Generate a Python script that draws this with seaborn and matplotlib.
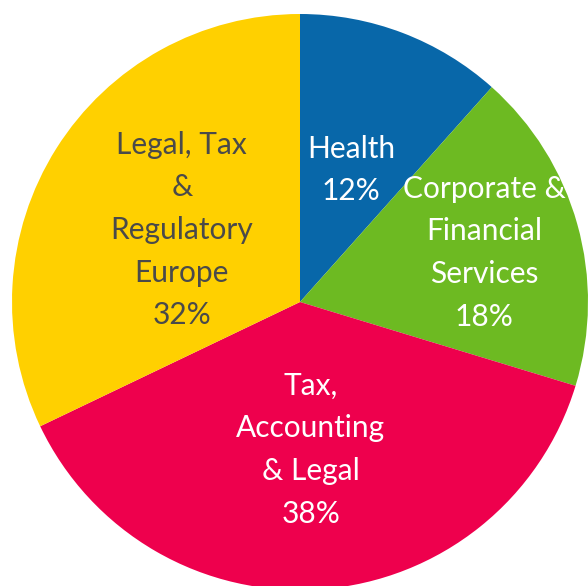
import matplotlib
matplotlib.use("Agg")
import matplotlib.pyplot as plt
import matplotlib.transforms as mtransforms
import seaborn as sns
import numpy as np

categories = ["Health", "Corporate &\nFinancial\nServices", "Tax,\nAccounting\n& Legal", "Legal, Tax\n&\nRegulatory\nEurope"]
shares = [11.6, 18.1, 38.2, 32.1]
pct_labels = [12, 18, 38, 32]
colors = ["#0867A9", "#6DBA22", "#EE004D", "#FFD000"]
text_colors = ["white", "white", "white", "#4A4A4A"]
label_dist = [0.50, 0.665, 0.505, 0.485]

sns.set_theme(style="white")
plt.rcParams['font.family'] = ['Lato', 'DejaVu Sans']

fig = plt.figure(figsize=(5.88, 5.86), dpi=100)
ax = fig.add_axes([0, 0, 1, 1])
R = 288
wedges, _ = ax.pie(shares, colors=colors, startangle=90, counterclock=False,
                   radius=R, center=(0, 0), wedgeprops=dict(linewidth=0))
shifted = mtransforms.offset_copy(ax.transData, fig=fig, x=0, y=-2.5, units="dots")
for w, cat, v, tc, d in zip(wedges, categories, pct_labels, text_colors, label_dist):
    ang = np.deg2rad((w.theta1 + w.theta2) / 2)
    ax.text(d * R * np.cos(ang), d * R * np.sin(ang), f"{cat}\n{v}%", transform=shifted,
            ha="center", va="center", color=tc, fontsize=21.5, linespacing=1.64)
ax.set_xlim(-300, 288)
ax.set_ylim(-284, 302)
ax.set_aspect("equal")
ax.axis("off")
fig.savefig("out.png", dpi=100)
